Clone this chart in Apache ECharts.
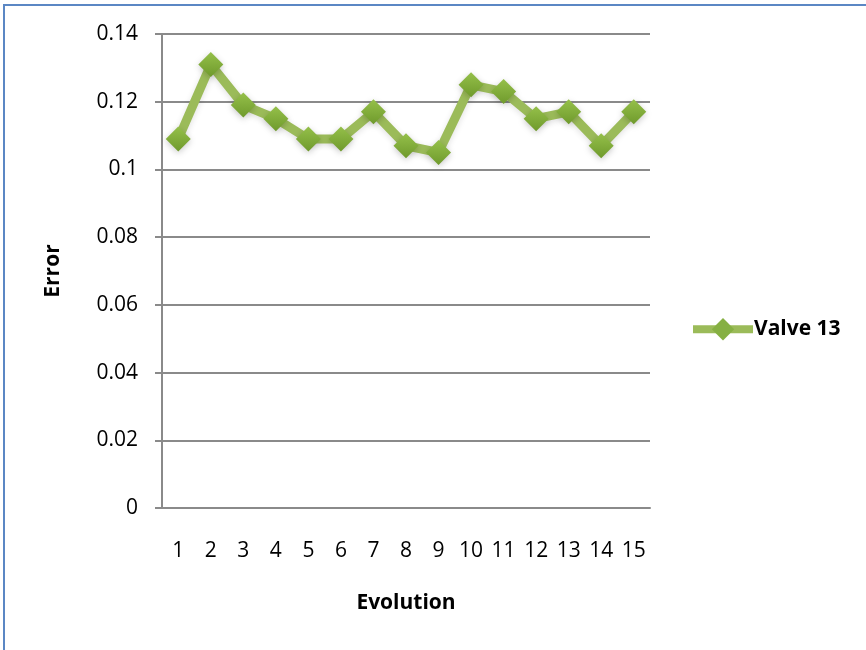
<!DOCTYPE html>
<html>
<head>
<meta charset="utf-8">
<script src="https://cdn.jsdelivr.net/npm/echarts@6/dist/echarts.min.js"></script>
<style>
  html, body { margin: 0; padding: 0; background: #fff; }
  #chart { width: 866px; height: 650px; }
</style>
</head>
<body>
<div id="chart"></div>
<script>
// Evolution steps and the error of valve 13 at each step
const evolutions = ['1','2','3','4','5','6','7','8','9','10','11','12','13','14','15'];
const valve13Error = [0.109, 0.131, 0.119, 0.115, 0.109, 0.109, 0.117, 0.107, 0.105, 0.125, 0.123, 0.115, 0.117, 0.107, 0.117];
const seriesName = 'Valve 13';

const FONT = '"Open Sans", "Liberation Sans", sans-serif';
const GRID_GRAY = '#8a8a8a';
const GREEN = '#9BBB59';

const chart = echarts.init(document.getElementById('chart'), null, { renderer: 'canvas' });

chart.setOption({
  backgroundColor: '#ffffff',
  animation: false,
  textStyle: { fontFamily: FONT },
  graphic: [
    { type: 'line', shape: { x1: 3, y1: 5, x2: 866, y2: 5 }, style: { stroke: '#5b87c4', lineWidth: 2 } },
    { type: 'line', shape: { x1: 4, y1: 5, x2: 4, y2: 650 }, style: { stroke: '#5b87c4', lineWidth: 2 } }
  ],
  grid: { left: 162, top: 34, right: 216, bottom: 142, containLabel: false },
  legend: {
    data: [seriesName],
    orient: 'vertical',
    left: 684,
    top: 313,
    itemWidth: 60,
    itemHeight: 28,
    itemStyle: { color: '#86b043' },
    lineStyle: { width: 8, color: GREEN },
    textStyle: { fontFamily: FONT, fontSize: 21, fontWeight: 'bold', color: '#000', padding: [0, 0, 0, -4] }
  },
  xAxis: {
    type: 'category',
    data: evolutions,
    boundaryGap: true,
    name: 'Evolution',
    nameLocation: 'middle',
    nameGap: 85,
    nameTextStyle: { fontFamily: FONT, fontSize: 21, fontWeight: 'bold', color: '#000' },
    axisLine: { show: true, lineStyle: { color: GRID_GRAY, width: 2 } },
    axisTick: { show: false },
    axisLabel: { margin: 33, fontFamily: FONT, fontSize: 21, color: '#000', interval: 0 },
    splitLine: { show: false }
  },
  yAxis: {
    type: 'value',
    min: 0,
    max: 0.14,
    interval: 0.02,
    name: 'Error',
    nameLocation: 'middle',
    nameGap: 98,
    nameRotate: 90,
    nameTextStyle: { fontFamily: FONT, fontSize: 21, fontWeight: 'bold', color: '#000' },
    axisLine: { show: true, lineStyle: { color: GRID_GRAY, width: 2 } },
    axisTick: { show: true, length: 7, lineStyle: { color: GRID_GRAY, width: 2 } },
    axisLabel: { margin: 24, fontFamily: FONT, fontSize: 21, color: '#000' },
    splitLine: { show: true, lineStyle: { color: GRID_GRAY, width: 2 } }
  },
  series: [{
    name: seriesName,
    type: 'line',
    data: valve13Error,
    symbol: 'diamond',
    symbolSize: 25,
    showAllSymbol: true,
    lineStyle: {
      color: GREEN,
      width: 9,
      shadowColor: 'rgba(0,0,0,0.12)',
      shadowBlur: 6,
      shadowOffsetY: 2
    },
    itemStyle: {
      color: new echarts.graphic.LinearGradient(0, 0, 0, 1, [
        { offset: 0, color: '#95c04a' },
        { offset: 1, color: '#6f9a2c' }
      ]),
      borderWidth: 0,
      shadowColor: 'rgba(0,0,0,0.2)',
      shadowBlur: 6,
      shadowOffsetY: 2
    },
    emphasis: { disabled: true },
    z: 3
  }]
});
</script>
</body>
</html>
